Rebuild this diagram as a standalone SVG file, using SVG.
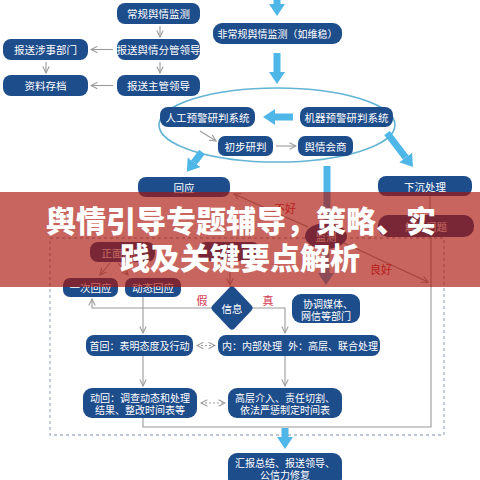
<svg xmlns="http://www.w3.org/2000/svg" width="480" height="480" viewBox="0 0 480 480">
<style>
.b{fill:#1e4d8c}
.t{fill:#fff;font-family:"Noto Sans CJK SC","Noto Sans",sans-serif;font-size:10.5px;text-anchor:middle;dominant-baseline:central}
.s{font-size:10px}
.c{fill:none;stroke:#9a9a9a;stroke-width:1.1}
.th{stroke:#4fb6e8;stroke-width:7;fill:none}
.r{fill:#d3344c;font-family:"Noto Sans CJK SC","Noto Sans",sans-serif;font-size:11px;text-anchor:middle;dominant-baseline:central}
.title{fill:#fff;font-family:"Noto Sans CJK SC","Noto Sans",sans-serif;font-size:30px;font-weight:900;text-anchor:middle}
</style>
<defs>
<marker id="a" viewBox="0 0 10 10" refX="9" refY="5" markerWidth="8" markerHeight="8" markerUnits="userSpaceOnUse" orient="auto-start-reverse">
<path d="M1,1 L9,5 L1,9" fill="none" stroke="#9a9a9a" stroke-width="1.3"/>
</marker>
<marker id="T" viewBox="0 0 12 16" refX="0" refY="8" markerWidth="12" markerHeight="16" markerUnits="userSpaceOnUse" orient="auto">
<path d="M0,0 L12,8 L0,16 z" fill="#4fb6e8"/>
</marker>
</defs>
<rect width="480" height="480" fill="#fff"/>
<ellipse id="loop" cx="277" cy="125" rx="118" ry="37" fill="none" stroke="#64b4d4" stroke-width="1.6"/>
<rect id="frame" x="50" y="238" width="394" height="197" fill="none" stroke="#a9b6c6" stroke-width="1.3" stroke-dasharray="3,3"/>
<g id="connectors">
<line class="c" x1="160" y1="26" x2="160" y2="37" marker-end="url(#a)"/>
<line class="c" x1="113" y1="49.5" x2="91" y2="49.5" marker-end="url(#a)"/>
<line class="c" x1="46" y1="62" x2="46" y2="73" marker-end="url(#a)"/>
<line class="c" x1="160" y1="62" x2="160" y2="73" marker-end="url(#a)"/>
<line class="c" x1="113" y1="85.5" x2="91" y2="85.5" marker-end="url(#a)"/>
<line class="c" x1="200" y1="131" x2="216" y2="141" marker-end="url(#a)"/>
<line class="c" x1="276" y1="146" x2="296" y2="146" marker-end="url(#a)"/>
<line class="c" x1="308" y1="227" x2="234" y2="194" marker-end="url(#a)"/>
<line class="c" x1="344" y1="243" x2="428" y2="282" marker-end="url(#a)"/>
<line class="c" x1="110" y1="263" x2="100" y2="275" marker-end="url(#a)"/>
<line class="c" x1="118" y1="263" x2="128" y2="275" marker-end="url(#a)"/>
<line class="c" x1="230" y1="261" x2="230" y2="285" marker-end="url(#a)"/>
<polyline class="c" points="212,308 92,308 92,299" marker-end="url(#a)"/>
<polyline class="c" points="252,308 285,308 285,333" marker-end="url(#a)"/>
<line class="c" x1="143" y1="297" x2="143" y2="333" marker-end="url(#a)"/>
<line class="c" x1="143" y1="356" x2="143" y2="386" marker-end="url(#a)"/>
<line class="c" x1="285" y1="356" x2="285" y2="386" marker-end="url(#a)"/>
<line class="c" x1="197" y1="345.5" x2="215" y2="345.5" stroke-dasharray="2,2" marker-start="url(#a)" marker-end="url(#a)"/>
<line class="c" x1="201" y1="403" x2="225" y2="403" stroke-dasharray="2,2" marker-start="url(#a)" marker-end="url(#a)"/>
<polyline class="c" points="143,418 143,427 431,427 431,237"/>
<line class="c" x1="430" y1="196" x2="430" y2="215"/>
<line class="th" x1="277" y1="0" x2="277" y2="4" marker-end="url(#T)"/>
<line class="th" x1="277" y1="53" x2="277" y2="72" marker-end="url(#T)"/>
<line class="th" x1="293" y1="117" x2="275" y2="117" marker-end="url(#T)"/>
<line class="th" x1="202" y1="152" x2="194.1" y2="162.3" marker-end="url(#T)"/>
<line class="th" x1="387" y1="133" x2="405.7" y2="157.5" marker-end="url(#T)"/>
<line class="th" x1="327" y1="166" x2="327" y2="223"/>
<line class="th" x1="326" y1="250" x2="326" y2="273" marker-end="url(#T)"/>
<line class="th" x1="285" y1="428" x2="285" y2="437" marker-end="url(#T)"/>
</g>
<g id="n1"><rect class="b" x="117" y="3" width="83" height="21" rx="8"/><text class="t" x="158.5" y="13.5">常规舆情监测</text></g>
<g id="n2"><rect class="b" x="117" y="39" width="83" height="21" rx="8"/><text class="t" x="158.5" y="49.5">报送舆情分管领导</text></g>
<g id="n3"><rect class="b" x="3" y="39" width="85" height="21" rx="8"/><text class="t" x="45.5" y="49.5">报送涉事部门</text></g>
<g id="n4"><rect class="b" x="3" y="75" width="85" height="21" rx="8"/><text class="t" x="45.5" y="85.5">资料存档</text></g>
<g id="n5"><rect class="b" x="117" y="75" width="83" height="21" rx="8"/><text class="t" x="158.5" y="85.5">报送主管领导</text></g>
<g id="n6"><rect class="b" x="213" y="23" width="129" height="21" rx="9"/><text class="t s" x="277.5" y="33.5">非常规舆情监测（如维稳）</text></g>
<g id="n7"><rect class="b" x="160" y="107" width="95" height="20" rx="8"/><text class="t" x="207.5" y="117">人工预警研判系统</text></g>
<g id="n8"><rect class="b" x="300" y="107" width="93" height="20" rx="8"/><text class="t" x="346.5" y="117">机器预警研判系统</text></g>
<g id="n9"><rect class="b" x="218" y="136" width="55" height="20" rx="7"/><text class="t" x="245.5" y="146">初步研判</text></g>
<g id="n10"><rect class="b" x="298" y="136" width="55" height="20" rx="7"/><text class="t" x="325.5" y="146">舆情会商</text></g>
<g id="n11"><rect class="b" x="138" y="177" width="92" height="20" rx="8"/><text class="t" x="184" y="187">回应</text></g>
<g id="n12"><rect class="b" x="378" y="176" width="94" height="20" rx="8"/><text class="t" x="425" y="186">下沉处理</text></g>
<g id="n13"><ellipse class="b" cx="326" cy="236" rx="21" ry="13"/><text class="t" x="326" y="236">监测</text></g>
<g id="n14"><rect class="b" x="378" y="215" width="96" height="22" rx="10"/><text class="t" x="426" y="226">解决问题</text></g>
<g id="n15"><rect class="b" x="90" y="242" width="65" height="20" rx="8"/><text class="t" x="122.5" y="252">正面回应</text></g>
<g id="n16"><rect class="b" x="198" y="242" width="62" height="19" rx="8"/></g>
<g id="n17"><rect class="b" x="63" y="278" width="55" height="19" rx="7"/><text class="t" x="90.5" y="287.5">一次回应</text></g>
<g id="n18"><rect class="b" x="125" y="278" width="56" height="19" rx="7"/><text class="t" x="153" y="287.5">动态回应</text></g>
<g id="n19"><path class="b" d="M232,290 L249,308 L232,326 L215,308 Z" stroke="#1e4d8c" stroke-width="7" stroke-linejoin="round"/><text class="t" x="232" y="308">信息</text></g>
<g id="n20"><rect class="b" x="292" y="294" width="68" height="29" rx="9"/><text class="t s" x="328" y="303">协调媒体、</text><text class="t s" x="326" y="315">网信等部门</text></g>
<g id="n21"><rect class="b" x="86" y="335" width="107" height="21" rx="8"/><text class="t s" x="139.5" y="345.5">首回：表明态度及行动</text></g>
<g id="n22"><rect class="b" x="218" y="335" width="162" height="21" rx="8"/><text class="t s" x="252" y="345.5">内：内部处理</text><text class="t s" x="333" y="345.5">外：高层、联合处理</text></g>
<g id="n23"><rect class="b" x="83" y="388" width="114" height="30" rx="9"/><text class="t s" x="140" y="397.5">动回：调查动态和处理</text><text class="t s" x="140" y="409.5">结果、整改时间表等</text></g>
<g id="n24"><rect class="b" x="228" y="388" width="114" height="30" rx="9"/><text class="t s" x="285" y="397.5">高层介入、责任切割、</text><text class="t s" x="285" y="409.5">依法严惩制定时间表</text></g>
<g id="n25"><rect class="b" x="228" y="453" width="114" height="34" rx="9"/><text class="t s" x="285" y="462">汇报总结、报送领导、</text><text class="t s" x="285" y="474">公信力修复</text></g>
<g id="labels">
<text class="r" x="285" y="208">不好</text>
<text class="r" x="381" y="269">良好</text>
<text class="r" x="202" y="300">假</text>
<text class="r" x="268" y="300">真</text>
</g>
<rect id="banner" x="0" y="192" width="480" height="95" fill="#ab1208" opacity="0.65"/>
<g id="title">
<text class="title" x="241" y="232">舆情引导专题辅导，策略、实</text>
<text class="title" x="240" y="269">践及关键要点解析</text>
</g>
</svg>
